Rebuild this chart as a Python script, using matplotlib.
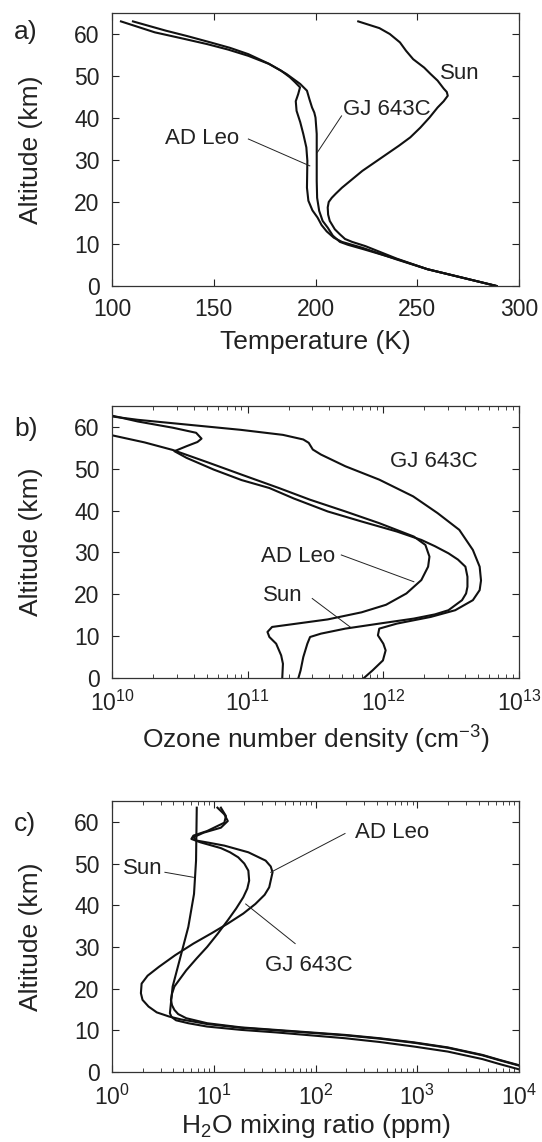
import matplotlib
matplotlib.use('Agg')
import matplotlib.pyplot as plt
import numpy as np

plt.rcParams['font.family'] = ['Liberation Sans', 'DejaVu Sans']
plt.rcParams['mathtext.fontset'] = 'custom'
plt.rcParams['mathtext.rm'] = 'Liberation Sans'
plt.rcParams['mathtext.it'] = 'Liberation Sans:italic'
plt.rcParams['mathtext.default'] = 'regular'

# --- a) temperature profiles (K vs km) ---
sun_T = [289, 272, 255, 240, 224.5, 218, 214.5, 212, 209.5, 207, 206.2, 206, 206.5, 208,
         210, 213, 218, 223, 229, 235, 241, 246.6, 251.5, 256, 260, 263, 265, 264.5, 263,
         260, 256.5, 253.4, 248, 244.5, 241.5, 236.5, 231.4, 221]
sun_T_alt = [0, 2, 4, 6.5, 9.5, 10.5, 11.2, 12.3, 13.5, 15.5, 17, 18.7, 20, 21,
             22, 23.4, 25.4, 27.4, 29.4, 31.4, 33.4, 35.4, 37.7, 40.1, 42.5, 44, 45.3,
             46.2, 47, 48.9, 50.5, 52, 54, 56, 58, 60, 61.4, 63]
adleo_T = [289, 272, 255, 240, 223, 218, 213, 209, 205.5, 203, 201, 198.5, 196.5, 195.8,
           196, 195.5, 194, 192.5, 190.7, 190.3, 191.5, 192.4, 190, 187.4, 183, 177, 167,
           157, 146.7, 134, 121, 104.4]
adleo_T_alt = [0, 2, 4, 6.3, 9.1, 9.8, 10.5, 11.5, 13, 14.5, 16.3, 18, 20.3, 23.4,
               29.8, 33, 36.2, 39, 41.7, 44, 45.7, 47.3, 48.5, 49.7, 51.3, 52.9, 54.8,
               56.3, 57.6, 59, 60.4, 63]
gj_T = [289, 272, 255, 240, 224, 216, 212, 208.5, 206, 203.5, 201.8, 200.8, 200.6, 200.6,
        200.6, 200, 199.4, 198.3, 197, 195.8, 192.5, 185.7, 177.2, 167, 158, 148.4, 137,
        126.4, 110.3]
gj_T_alt = [0, 2, 4, 6.4, 8.7, 9.8, 10.5, 12, 13.9, 15.5, 17.9, 21, 25, 29.8,
            36.2, 40.1, 41.3, 42.5, 44.5, 46.5, 48.1, 50.5, 52.9, 55.2, 56.7, 58, 59.5,
            60.8, 63]

# --- b) ozone number density (log10 cm^-3 vs km) ---
sun_o3 = [11.374, 11.39, 11.41, 11.44, 11.46, 11.54, 11.72, 11.97, 12.225, 12.38, 12.48,
          12.58, 12.61, 12.62, 12.62, 12.605, 12.55, 12.48, 12.38, 12.28, 12.1, 11.84, 11.59,
          11.34, 11.16, 10.955, 10.75, 10.55, 10.46, 10.55, 10.63, 10.66, 10.62, 10.45,
          10.19, 10.0]
sun_o3_alt = [0, 1.8, 5, 8.2, 9.8, 10.6, 11.8, 13, 14.2, 15.2, 16.2, 18.6, 20.2, 21.8,
              24.2, 26.6, 28.3, 29.8, 31.5, 33, 35, 37.4, 39.8, 42.9, 45.4, 47.3, 49.8,
              52.6, 54.2, 55.4, 56.4, 57.2, 58.6, 59.8, 61.3, 62.7]
adleo_o3 = [11.255, 11.26, 11.247, 11.21, 11.16, 11.146, 11.18, 11.34, 11.59, 11.84,
            12.02, 12.17, 12.28, 12.33, 12.34, 12.31, 12.225, 11.97, 11.72, 11.46, 11.23,
            10.955, 10.70, 10.447, 10.24, 10.0]
adleo_o3_alt = [0, 3.4, 5.4, 8.2, 9.8, 11, 12.2, 12.9, 14, 15.7, 17.5, 20.2, 23.4, 26.6,
                29, 31.8, 33.8, 37, 39.8, 42.6, 45.4, 48.6, 51.6, 54.5, 56.3, 58]
gj_o3 = [11.857, 11.92, 11.997, 12.017, 12.0, 11.96, 11.97, 12.1, 12.35, 12.53, 12.66,
         12.71, 12.72, 12.71, 12.66, 12.56, 12.40, 12.22, 11.97, 11.72, 11.54, 11.48,
         11.45, 11.41, 11.26, 10.95, 10.57, 10.19, 10.0]
gj_o3_alt = [0, 1.8, 4.2, 6.6, 8.2, 10.2, 11.8, 13, 14.6, 16.2, 18.6, 21, 23.3, 26.6,
             30.6, 35.4, 39.4, 43.4, 47.4, 50.6, 53.4, 54.6, 56.2, 57, 58.1, 59.3, 60.5,
             61.7, 62.5]

# --- c) H2O mixing ratio (log10 ppm vs km) ---
sun_h2o = [4.05, 3.81, 3.64, 3.3, 2.97, 2.63, 2.29, 1.95, 1.61, 1.27, 0.935, 0.75, 0.63,
           0.585, 0.569, 0.596, 0.664, 0.75, 0.806, 0.826, 0.833]
sun_h2o_alt = [0.3, 1.9, 3.1, 4.9, 6.1, 7.2, 8.1, 8.8, 9.5, 10.1, 10.9, 11.7, 12.4,
               13.2, 14.1, 20.5, 26.8, 34.8, 42.7, 50.7, 63.4]
adleo_h2o = [4.05, 3.81, 3.64, 3.3, 2.97, 2.63, 2.29, 1.95, 1.61, 1.27, 0.935, 0.8, 0.68,
             0.562, 0.44, 0.359, 0.30, 0.284, 0.291, 0.35, 0.46, 0.62, 0.8, 0.98, 1.138,
             1.29, 1.409, 1.50, 1.545, 1.578, 1.56, 1.51, 1.34, 1.104, 0.95, 0.833, 0.8, 0.9,
             1.07, 1.138, 1.104, 1.036]
adleo_h2o_alt = [1.2, 2.8, 4.0, 5.8, 7.0, 8.0, 8.8, 9.4, 10.0, 10.6, 11.5, 12.1, 12.6,
                 13.3, 14.3, 15.7, 17.3, 18.9, 21.2, 23.1, 25.2, 28, 30.8, 33.3, 35.6,
                 38, 40.3, 42.5, 44.3, 47.9, 49.3, 50.7, 52.7, 54.3, 55.0, 55.5, 56.3,
                 57.4, 58.6, 60.2, 61.8, 63.4]
gj_h2o = [4.05, 3.81, 3.64, 3.3, 2.97, 2.63, 2.29, 1.95, 1.61, 1.27, 0.935, 0.73, 0.65,
          0.613, 0.59, 0.579, 0.59, 0.613, 0.67, 0.73, 0.83, 0.935, 1.04, 1.138, 1.22,
          1.29, 1.33, 1.348, 1.34, 1.3, 1.24, 1.16, 1.07, 0.867, 0.78, 0.8, 0.935, 1.104,
          1.12, 1.07]
gj_h2o_alt = [1.3, 2.9, 4.1, 5.9, 7.1, 8.1, 8.9, 9.5, 10.1, 10.7, 11.7, 12.9, 13.9,
              14.9, 16, 17.3, 18.8, 20.5, 22.4, 24.4, 27.2, 30, 33.2, 36.4, 39.2,
              41.9, 44, 45.9, 48.3, 50.0, 51.5, 52.7, 53.7, 55.1, 55.9, 56.7, 57.8, 59.8,
              61.4, 63.4]

fig = plt.figure(figsize=(5.42, 11.42), dpi=100)
left, width = 112 / 542, 407 / 542
ax_a = fig.add_axes([left, 1 - 286 / 1142, width, 273 / 1142])
ax_b = fig.add_axes([left, 1 - 678 / 1142, width, 272 / 1142])
ax_c = fig.add_axes([left, 1 - 1072 / 1142, width, 271 / 1142])

lw = 1.5
tick_fs = 16.5
note_fs = 16
label_fs = 19


def style(ax):
    ax.set_ylim(0, 65)
    ax.set_yticks([0, 10, 20, 30, 40, 50, 60])
    ax.tick_params(which='both', direction='in', top=True, right=True,
                   labelsize=tick_fs, pad=9, colors='#222222')
    ax.tick_params(which='major', length=5, width=0.8)
    ax.tick_params(which='minor', length=3, width=0.6)
    ax.set_ylabel('Altitude (km)', fontsize=label_fs, color='#222222')
    ax.yaxis.set_label_coords(-0.17, 0.5)
    for s in ax.spines.values():
        s.set_linewidth(0.9)
        s.set_color('#333333')


def leader(ax, x0, y0, x1, y1):
    ax.plot([x0, x1], [y0, y1], color='#222222', lw=0.7)


def note(ax, x, y, s):
    ax.text(x, y, s, fontsize=note_fs, va='center', ha='left', color='#222222')


# a) temperature
for T, z in [(sun_T, sun_T_alt), (adleo_T, adleo_T_alt), (gj_T, gj_T_alt)]:
    ax_a.plot(T, z, color='#111111', lw=lw)
ax_a.set_xlim(100, 300)
ax_a.set_xticks([100, 150, 200, 250, 300])
style(ax_a)
ax_a.set_xlabel('Temperature (K)', fontsize=label_fs, labelpad=6, color='#222222')
note(ax_a, 261, 50.5, 'Sun')
note(ax_a, 213.3, 42.1, 'GJ 643C')
leader(ax_a, 212.8, 40.5, 200.9, 31.8)
note(ax_a, 126, 35.2, 'AD Leo')
leader(ax_a, 167, 35, 197.2, 28.6)

# b) ozone
for n, z in [(sun_o3, sun_o3_alt), (adleo_o3, adleo_o3_alt), (gj_o3, gj_o3_alt)]:
    ax_b.plot(10 ** np.array(n), z, color='#111111', lw=lw)
ax_b.set_xscale('log')
ax_b.set_xlim(1e10, 1e13)
style(ax_b)
ax_b.set_xlabel('Ozone number density (cm$^{-3}$)', fontsize=label_fs, labelpad=6,
                color='#222222')
note(ax_b, 10 ** 12.047, 51.8, 'GJ 643C')
note(ax_b, 10 ** 11.095, 29, 'AD Leo')
leader(ax_b, 10 ** 11.69, 29.4, 10 ** 12.225, 23)
note(ax_b, 10 ** 11.11, 19.6, 'Sun')
leader(ax_b, 10 ** 11.476, 19, 10 ** 11.755, 12.2)

# c) water vapour
for q, z in [(sun_h2o, sun_h2o_alt), (adleo_h2o, adleo_h2o_alt), (gj_h2o, gj_h2o_alt)]:
    ax_c.plot(10 ** np.array(q), z, color='#111111', lw=lw)
ax_c.set_xscale('log')
ax_c.set_xlim(1, 1e4)
style(ax_c)
ax_c.set_xlabel('H$_2$O mixing ratio (ppm)', fontsize=label_fs, labelpad=2,
                color='#222222')
note(ax_c, 10 ** 2.39, 57.5, 'AD Leo')
leader(ax_c, 10 ** 2.29, 57.2, 10 ** 1.56, 47.9)
note(ax_c, 10 ** 1.504, 25.6, 'GJ 643C')
leader(ax_c, 10 ** 1.8, 30.8, 10 ** 1.314, 40.3)
note(ax_c, 10 ** 0.105, 48.7, 'Sun')
leader(ax_c, 10 ** 0.52, 47.9, 10 ** 0.8, 46.7)

# panel letters
for lab, ypx in [('a)', 32), ('b)', 429), ('c)', 824)]:
    fig.text(14 / 542, 1 - ypx / 1142, lab, fontsize=19, va='center', ha='left',
             color='#222222')

fig.savefig('out.png', dpi=100)
